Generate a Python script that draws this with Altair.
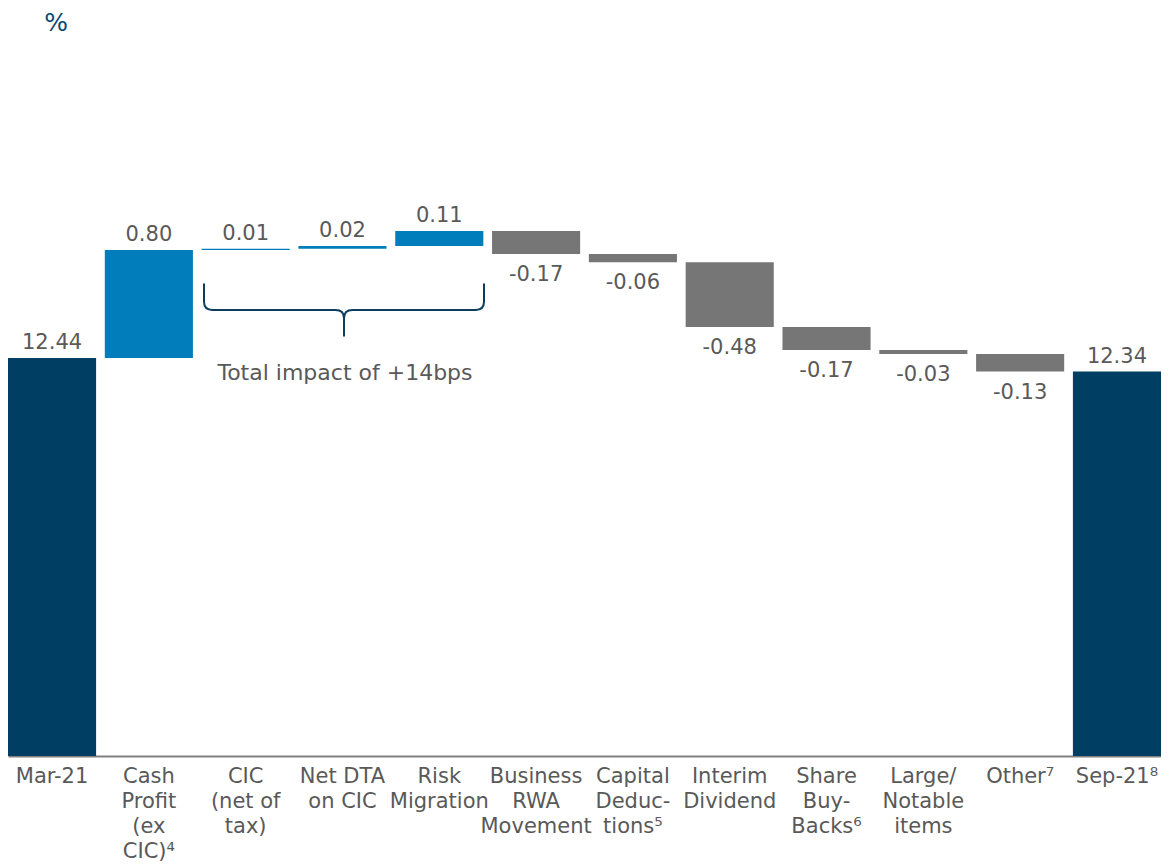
import altair as alt
import pandas as pd

categories = ["Mar-21", "Cash\nProfit\n(ex\nCIC)⁴", "CIC\n(net of\ntax)", "Net DTA\non CIC",
              "Risk\nMigration", "Business\nRWA\nMovement", "Capital\nDeduc-\ntions⁵",
              "Interim\nDividend", "Share\nBuy-\nBacks⁶", "Large/\nNotable\nitems",
              "Other⁷", "Sep-21⁸"]
values = [12.44, 0.80, 0.01, 0.02, 0.11, -0.17, -0.06, -0.48, -0.17, -0.03, -0.13, 12.34]
kinds = ["total", "up", "up", "up", "up", "down", "down", "down", "down", "down", "down", "total"]

rows = []
running = 0.0
for c, v, k in zip(categories, values, kinds):
    if k == "total":
        start, end = 0.0, v
        running = v
    else:
        start = running
        end = running + v
        running = end
    rows.append({"cat": c, "start": start, "end": end, "kind": k,
                 "label": f"{v:.2f}"})
df = pd.DataFrame(rows)

FONT = "DejaVu Sans"
ymin, ymax = 9.492, 9.492 + 748 / 135

x = alt.X("cat:N", sort=categories, title=None,
          scale=alt.Scale(paddingInner=0.09, paddingOuter=0),
          axis=alt.Axis(labelAngle=0, ticks=False, domainColor="#808080", domainWidth=2,
                        labelExpr="split(datum.label, '\\n')", labelFontSize=21,
                        labelColor="#595959", labelLineHeight=25, labelPadding=9,
                        labelLimit=400, labelOverlap=False, labelFont=FONT))
yscale = alt.Scale(domain=[ymin, ymax], nice=False, zero=False)

base = alt.Chart(df)
bars = base.mark_bar(clip=True).encode(
    x=x,
    y=alt.Y("start:Q", scale=yscale, axis=None),
    y2="end:Q",
    color=alt.Color("kind:N", scale=alt.Scale(domain=["total", "up", "down"],
                                              range=["#003F63", "#007DBA", "#767676"]),
                    legend=None),
)
lab_up = base.transform_filter("datum.kind != 'down'").mark_text(
    baseline="alphabetic", dy=-9, fontSize=21, color="#595959", font=FONT
).encode(x=x, y=alt.Y("end:Q", scale=yscale, axis=None), text="label:N")
lab_dn = base.transform_filter("datum.kind == 'down'").mark_text(
    baseline="alphabetic", dy=27, fontSize=21, color="#595959", font=FONT
).encode(x=x, y=alt.Y("end:Q", scale=yscale, axis=None), text="label:N")

one = pd.DataFrame({"a": [0]})
brace_path = ("M -1 -0.19 L -1 -0.06 Q -1 0 -0.94 0 L -0.06 0 Q 0 0 0 0.06 L 0 0.19 "
              "M 0 0.06 Q 0 0 0.06 0 L 0.94 0 Q 1 0 1 -0.06 L 1 -0.19")
brace = alt.Chart(one).mark_point(shape=brace_path, size=78400, filled=False,
                                  stroke="#0B3D5E", strokeWidth=2, opacity=1).encode(
    x=alt.value(336), y=alt.value(302))
note = alt.Chart(one).mark_text(text="Total impact of +14bps", fontSize=22, color="#595959",
                                font=FONT, baseline="middle", align="center").encode(
    x=alt.value(337), y=alt.value(365))
pct = alt.Chart(one).mark_text(text="%", fontSize=25, color="#0B4A72", font=FONT,
                               baseline="middle", align="center").encode(
    x=alt.value(48), y=alt.value(15))

chart = alt.layer(bars, lab_up, lab_dn, brace, note, pct).properties(
    width=1153, height=748,
    padding={"left": 0, "top": 0, "right": 0, "bottom": 0},
).configure(font=FONT, view=alt.ViewConfig(stroke=None))

chart.save("out.html", embed_options={"renderer": "svg", "actions": False})
